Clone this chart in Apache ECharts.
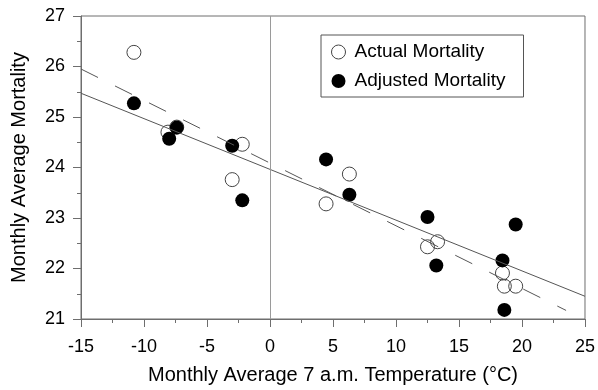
<!DOCTYPE html>
<html>
<head>
<meta charset="utf-8">
<script src="https://cdn.jsdelivr.net/npm/echarts@6/dist/echarts.min.js"></script>
<style>
  html, body { margin: 0; padding: 0; background: #fff; }
  #chart { width: 598px; height: 390px; }
</style>
</head>
<body>
<div id="chart"></div>
<script>
// monthly points
var actualX = [-10.8, -8.1, -7.4, -2.2, -3.0, 6.3, 4.45, 13.3, 12.5, 18.45, 18.6, 19.5];
var actualY = [26.28, 24.70, 24.80, 24.46, 23.76, 23.87, 23.28, 22.53, 22.43, 21.91, 21.65, 21.65];
var adjustedX = [-10.8, -8.0, -7.4, -3.0, -2.2, 4.45, 6.3, 12.5, 13.2, 19.5, 18.45, 18.6];
var adjustedY = [25.27, 24.57, 24.79, 24.43, 23.35, 24.16, 23.46, 23.02, 22.06, 22.87, 22.16, 21.18];

// regression lines (end points)
var solidLineX = [-15, 25];
var solidLineY = [25.47, 21.45];
var dashedLineX = [-15, 23.5];
var dashedLineY = [25.95, 21.17];

var xTicks = [-15, -10, -5, 0, 5, 10, 15, 20, 25];
var yTicks = [21, 22, 23, 24, 25, 26, 27];

function pairs(xs, ys) {
    var out = [];
    for (var i = 0; i < xs.length; i++) out.push([xs[i], ys[i]]);
    return out;
}

var font = '"Liberation Sans", Arial, sans-serif';
var axisColor = '#6e6e6e';

var myChart = echarts.init(document.getElementById('chart'));
var option = {
    animation: false,
    grid: {
        left: 81,
        right: 11,
        top: 16,
        bottom: 68,
        show: true,
        borderColor: axisColor,
        borderWidth: 1
    },
    legend: {
        orient: 'vertical',
        left: 321,
        top: 35,
        padding: [7, 18, 6, 10],
        itemWidth: 22,
        itemHeight: 14,
        itemGap: 9,
        borderColor: '#555',
        borderWidth: 1,
        itemStyle: { borderWidth: 1 },
        data: ['Actual Mortality', 'Adjusted Mortality'],
        textStyle: {
            fontFamily: font,
            fontSize: 19,
            lineHeight: 20,
            color: '#000'
        }
    },
    xAxis: {
        type: 'value',
        min: xTicks[0],
        max: xTicks[xTicks.length - 1],
        interval: 5,
        name: 'Monthly Average 7 a.m. Temperature (°C)',
        nameLocation: 'middle',
        nameGap: 46,
        nameTextStyle: { fontFamily: font, fontSize: 20, color: '#000' },
        axisLine: { onZero: false, lineStyle: { color: axisColor } },
        axisTick: { length: 8, lineStyle: { color: axisColor } },
        minorTick: { show: true, splitNumber: 2, length: 4, lineStyle: { color: axisColor } },
        splitLine: { show: false },
        axisLabel: { fontFamily: font, fontSize: 18, color: '#000', margin: 19 }
    },
    yAxis: {
        type: 'value',
        min: yTicks[0],
        max: yTicks[yTicks.length - 1],
        interval: 1,
        name: 'Monthly Average Mortality',
        nameLocation: 'middle',
        nameGap: 52,
        nameTextStyle: { fontFamily: font, fontSize: 20, color: '#000' },
        axisLine: { show: true, onZero: false, lineStyle: { color: axisColor } },
        axisTick: { show: true, length: 8, lineStyle: { color: axisColor } },
        minorTick: { show: true, splitNumber: 2, length: 4, lineStyle: { color: axisColor } },
        splitLine: { show: false },
        axisLabel: { fontFamily: font, fontSize: 18, color: '#000', margin: 16 }
    },
    series: [
        {
            name: 'fit solid',
            type: 'line',
            data: pairs(solidLineX, solidLineY),
            symbol: 'none',
            silent: true,
            lineStyle: { color: '#555', width: 1 },
            markLine: {
                silent: true,
                symbol: 'none',
                label: { show: false },
                lineStyle: { color: '#9a9a9a', width: 1, type: 'solid' },
                data: [{ xAxis: 0 }]
            }
        },
        {
            name: 'fit dashed',
            type: 'line',
            data: pairs(dashedLineX, dashedLineY),
            symbol: 'none',
            silent: true,
            lineStyle: { color: '#555', width: 1, type: [19, 19] }
        },
        {
            name: 'Actual Mortality',
            type: 'scatter',
            data: pairs(actualX, actualY),
            symbol: 'circle',
            symbolSize: 14,
            itemStyle: { color: 'rgba(255,255,255,0)', borderColor: '#444', borderWidth: 1, opacity: 1 }
        },
        {
            name: 'Adjusted Mortality',
            type: 'scatter',
            data: pairs(adjustedX, adjustedY),
            symbol: 'circle',
            symbolSize: 14,
            itemStyle: { color: '#000', opacity: 1 }
        }
    ]
};
myChart.setOption(option);
</script>
</body>
</html>
